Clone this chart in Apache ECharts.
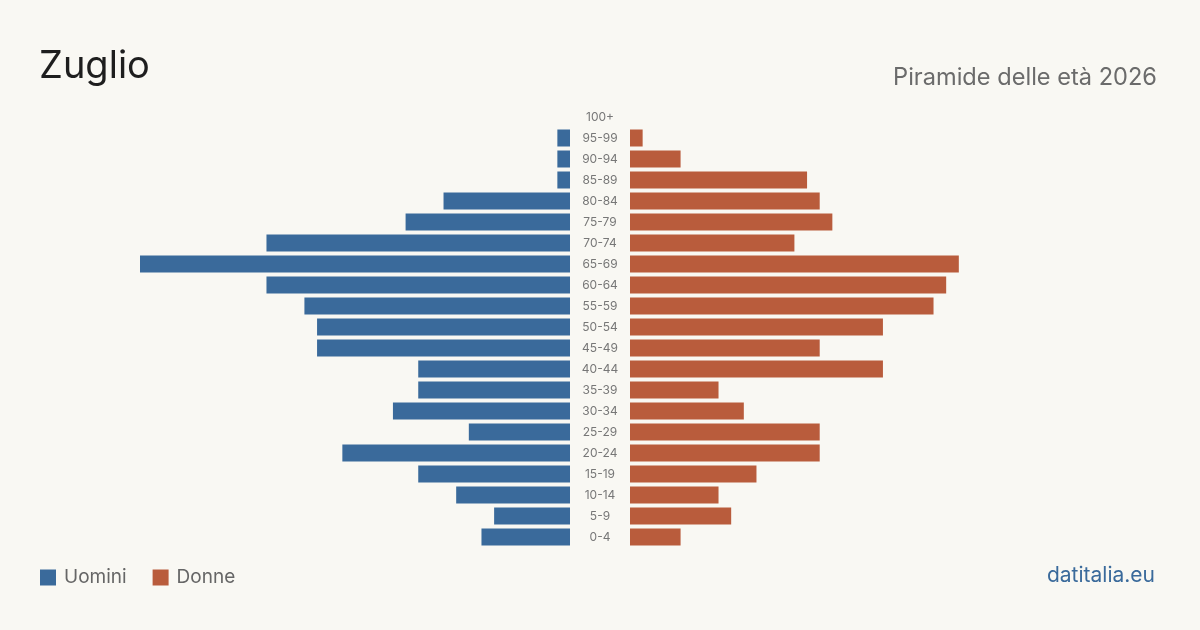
<!DOCTYPE html>
<html>
<head>
<meta charset="utf-8">
<script src="https://cdn.jsdelivr.net/npm/echarts@6/dist/echarts.min.js"></script>
<style>
  html, body { margin: 0; padding: 0; background: #f9f8f3; }
  #chart { width: 1200px; height: 630px; }
</style>
</head>
<body>
<div id="chart"></div>
<script>
// age groups, bottom to top
const ageGroups = ['0-4','5-9','10-14','15-19','20-24','25-29','30-34','35-39','40-44','45-49',
  '50-54','55-59','60-64','65-69','70-74','75-79','80-84','85-89','90-94','95-99','100+'];
const men   = [7, 6, 9, 12, 18, 8, 14, 12, 12, 20, 20, 21, 24, 34, 24, 13, 10, 1, 1, 1, 0];
const women = [4, 8, 7, 10, 15, 15, 9, 7, 20, 15, 20, 24, 25, 26, 13, 16, 15, 14, 4, 1, 0];
const axisMax = 34;

const BLUE = '#3a6a9b';
const RED = '#b95c3c';
const FONT = 'Inter, "Noto Sans", sans-serif';

const chart = echarts.init(document.getElementById('chart'));
chart.setOption({
  backgroundColor: '#f9f8f3',
  textStyle: { fontFamily: FONT },
  title: [
    { text: 'Zuglio', left: 39, top: 48, padding: 0, textStyle: { fontSize: 38, fontWeight: 'normal', color: '#1e1e1e', fontFamily: FONT } },
    { text: 'Piramide delle età 2026', right: 43, top: 66, padding: 0, textStyle: { fontSize: 23.6, fontWeight: 'normal', color: '#6b6b6b', fontFamily: FONT } },
    { text: 'datitalia.eu', right: 45, top: 565, padding: 0, textStyle: { fontSize: 21, fontWeight: 'normal', color: BLUE, fontFamily: FONT } }
  ],
  legend: {
    left: 40, top: 568, padding: 0, icon: 'rect', itemWidth: 16, itemHeight: 16, itemGap: 26,
    textStyle: { fontSize: 19, color: '#666', padding: [0, 0, 0, 3], fontFamily: FONT },
    data: ['Uomini', 'Donne']
  },
  grid: [
    { left: 140, width: 430, top: 106.5, height: 441 },
    { left: 630, width: 430, top: 106.5, height: 441 }
  ],
  xAxis: [
    { gridIndex: 0, type: 'value', min: 0, max: axisMax, inverse: true, show: false },
    { gridIndex: 1, type: 'value', min: 0, max: axisMax, show: false }
  ],
  yAxis: [
    { gridIndex: 0, type: 'category', data: ageGroups, position: 'right',
      axisLine: { show: false }, axisTick: { show: false },
      axisLabel: { align: 'center', margin: 30, fontSize: 12, color: '#777', fontFamily: FONT } },
    { gridIndex: 1, type: 'category', data: ageGroups, show: false }
  ],
  series: [
    { name: 'Uomini', type: 'bar', xAxisIndex: 0, yAxisIndex: 0, data: men, barWidth: 17,
      itemStyle: { color: BLUE }, silent: true },
    { name: 'Donne', type: 'bar', xAxisIndex: 1, yAxisIndex: 1, data: women, barWidth: 17,
      itemStyle: { color: RED }, silent: true }
  ]
});
</script>
</body>
</html>
